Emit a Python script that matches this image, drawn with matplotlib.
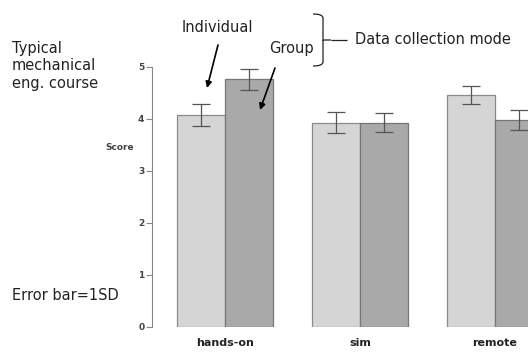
import numpy as np
import matplotlib
matplotlib.use("Agg")
import matplotlib.pyplot as plt
from matplotlib.path import Path
from matplotlib.patches import PathPatch

# data
modes = ["hands-on", "sim", "remote"]
individual_mean = [4.07, 3.93, 4.46]
individual_sd = [0.21, 0.20, 0.17]
group_mean = [4.76, 3.93, 3.98]
group_sd = [0.20, 0.18, 0.19]
yticks = [0, 1, 2, 3, 4, 5]

W, H = 528, 352
fig = plt.figure(figsize=(W / 100, H / 100), dpi=100)
plt.rcParams['font.family'] = ['DejaVu Sans']

# axes: spine at x=152px, y=0 at 327px, y=5 at 67px
ax = fig.add_axes([152 / W, 25 / H, 1 - 152 / W, 260 / H])
x = np.arange(len(modes))
w = 0.356
ax.bar(x - w / 2, individual_mean, w, color="#d5d5d5", edgecolor="#8a8a8a", linewidth=0.9)
ax.bar(x + w / 2, group_mean, w, color="#a9a9a9", edgecolor="#777777", linewidth=0.9)
ax.errorbar(x - w / 2, individual_mean, yerr=individual_sd, fmt="none",
            ecolor="#555555", elinewidth=0.9, capsize=6.5, capthick=0.9, clip_on=False)
ax.errorbar(x + w / 2, group_mean, yerr=group_sd, fmt="none",
            ecolor="#555555", elinewidth=0.9, capsize=6.5, capthick=0.9, clip_on=False)

ax.set_xlim((152 - 225) / 135, (528 - 225) / 135)
ax.set_ylim(0, 5)
for s in ["top", "right", "bottom"]:
    ax.spines[s].set_visible(False)
ax.spines["left"].set_color("#888888")
ax.spines["left"].set_linewidth(0.8)
ax.set_yticks(yticks)
ax.set_yticklabels([str(t) for t in yticks], fontsize=6.5, fontweight="bold", color="#444444")
ax.tick_params(axis="y", length=4, width=0.8, color="#888888", pad=1.5)
ax.set_xticks(x)
ax.set_xticklabels(modes, fontsize=8, fontweight="bold", color="#222222")
ax.tick_params(axis="x", length=0, pad=8)
ax.patch.set_visible(False)


def fp(px, py):
    return (px, H - py)


fig.text(120 / W, 1 - 147 / H, "Score", fontsize=6.5, fontweight="bold",
         color="#444444", ha="center", va="center")

txt = dict(fontsize=10.5, color="#222222")
fig.text(12 / W, 1 - 66 / H, "Typical\nmechanical\neng. course", ha="left",
         va="center", linespacing=1.2, **txt)
fig.text(12 / W, 1 - 296 / H, "Error bar=1SD", ha="left", va="center", **txt)
fig.text(217 / W, 1 - 28 / H, "Individual", ha="center", va="center", **txt)
fig.text(291 / W, 1 - 49 / H, "Group", ha="center", va="center", **txt)
fig.text(355 / W, 1 - 40 / H, "Data collection mode", ha="left", va="center", **txt)

arrow = dict(arrowstyle="-|>", color="black", lw=1.2, mutation_scale=9,
             shrinkA=0, shrinkB=0)
ax.annotate("", xy=fp(207, 88), xytext=fp(218, 45), xycoords="figure pixels",
            textcoords="figure pixels", arrowprops=arrow)
ax.annotate("", xy=fp(260, 110), xytext=fp(275, 68), xycoords="figure pixels",
            textcoords="figure pixels", arrowprops=arrow)

# curly brace
bx, top, bot, mid = 313, 14, 66, 40
verts = [fp(bx, top), fp(bx + 10, top), fp(bx + 10, top + 4), fp(bx + 10, mid - 6),
         fp(bx + 10, mid), fp(bx + 10, mid), fp(bx + 18, mid),
         fp(bx + 10, mid), fp(bx + 10, mid), fp(bx + 10, mid + 6),
         fp(bx + 10, bot - 4), fp(bx + 10, bot), fp(bx, bot)]
codes = [Path.MOVETO, Path.CURVE3, Path.CURVE3, Path.LINETO,
         Path.CURVE3, Path.CURVE3, Path.LINETO,
         Path.MOVETO, Path.LINETO, Path.LINETO,
         Path.LINETO, Path.CURVE3, Path.CURVE3]
brace = PathPatch(Path(verts, codes), facecolor="none", edgecolor="#222222",
                  lw=0.9, transform=None)
fig.add_artist(brace)
fig.add_artist(PathPatch(Path([fp(bx + 18, mid), fp(bx + 34, mid)]),
                         edgecolor="#222222", lw=0.9, transform=None))

fig.savefig("out.png", dpi=100)
